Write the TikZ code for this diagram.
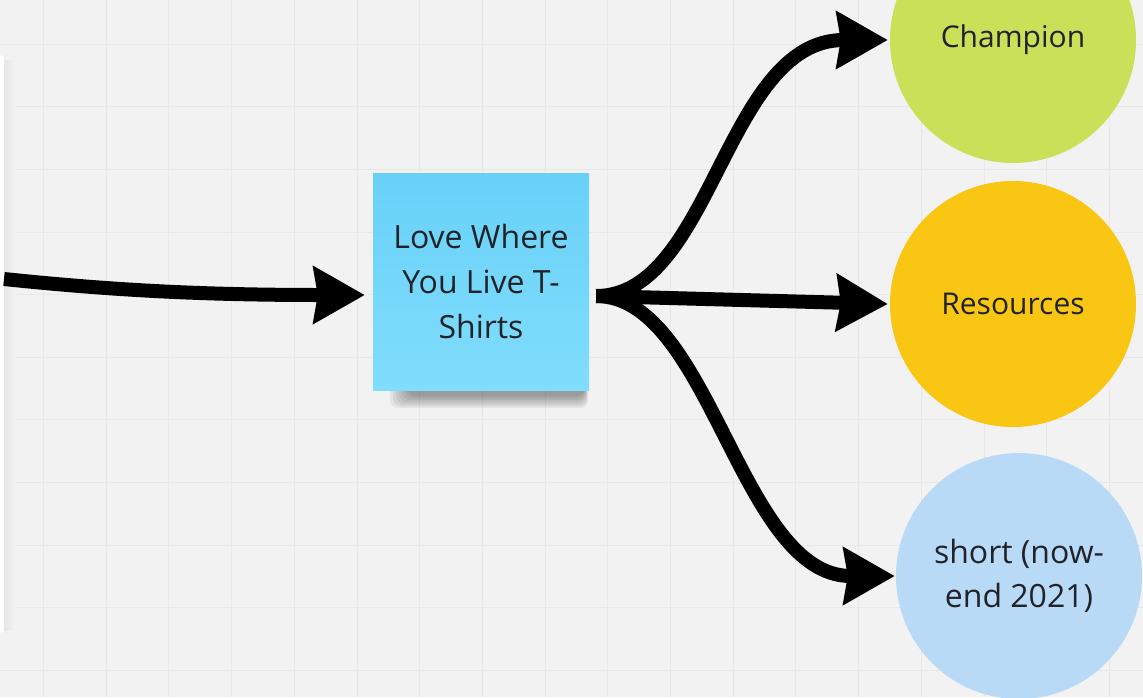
\documentclass[tikz,border=0pt]{standalone}
\usepackage{fontspec}
\setmainfont{Open Sans}
\usetikzlibrary{arrows.meta}
\usetikzlibrary{calc}

\definecolor{board}{RGB}{242,242,242}
\definecolor{gridline}{RGB}{232,232,232}
\definecolor{ink}{RGB}{33,35,40}
\definecolor{notetop}{RGB}{104,209,248}
\definecolor{notebot}{RGB}{128,221,252}
\definecolor{lime}{RGB}{202,224,88}
\definecolor{amber}{RGB}{249,198,20}
\definecolor{sky}{RGB}{185,218,247}

\tikzset{
    bubble/.style={circle,minimum size=246pt,inner sep=0,text=ink,align=center,font=\fontsize{30}{44}\selectfont},
    sticky/.style={rectangle,minimum width=216pt,minimum height=217pt,inner sep=0,text=ink,align=center,
        top color=notetop,bottom color=notebot,font=\fontsize{32}{45}\selectfont},
    flow/.style={line width=14pt,-{Stealth[length=51pt,width=56pt,inset=4pt]}}
}

\begin{document}
\begin{tikzpicture}[x=1pt,y=-1pt]
    \clip (0,0) rectangle (1143,697);
    \fill[board] (0,0) rectangle (1143,697);
    \foreach \k in {0,...,17} \draw[gridline,line width=1pt] ({43.5+62.7*\k},0) -- ({43.5+62.7*\k},697);
    \foreach \k in {0,...,10} \draw[gridline,line width=1pt] (0,{44.3+62.6*\k}) -- (1143,{44.3+62.6*\k});

    \shade[left color=black!10,right color=board] (4,60) rectangle (15,630);
    \fill[white,rounded corners=4pt] (-10,55) rectangle (4,633);

    \foreach \d in {0,2,...,12} \fill[black,opacity=0.06,rounded corners=8pt] ({390+1.5*\d},380) rectangle ({588-0.3*\d},{408-\d});
    \node[sticky] (tee) at (481,281.5) {Love Where\\You Live T-\\Shirts};

    \node[bubble,fill=lime] (champ) at (1013,40) {Champion};
    \node[bubble,fill=amber] (res) at (1013,304) {Resources};
    \node[bubble,fill=sky,font=\fontsize{32}{44}\selectfont] (short) at (1019,576) {short (now-\\end 2021)};

    \coordinate (src) at (4,279);
    \coordinate (fork) at ($(tee.east)+(7,14.5)$);
    \draw[flow] (src) .. controls (110,290) and (200,295) .. ($(tee.west)+(-8,13.5)$);
    \draw[flow] (fork) .. controls (712,296) and (725,40) .. ($(champ.west)+(-2,0)$);
    \draw[flow] (fork) -- ($(res.west)+(-2,0)$);
    \draw[flow] (fork) .. controls (710,296) and (740,576) .. ($(short.west)+(-1,0)$);
\end{tikzpicture}
\end{document}
